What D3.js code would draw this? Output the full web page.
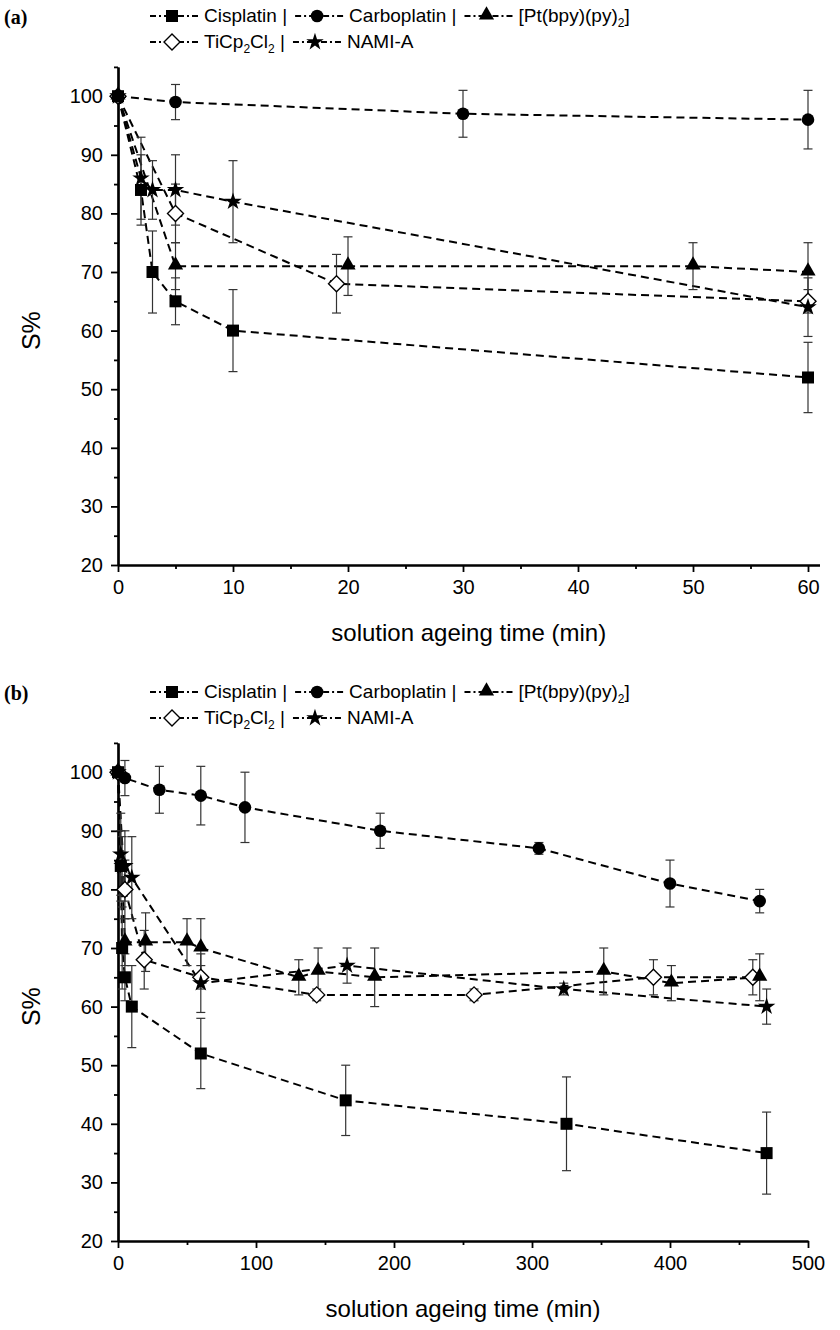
<!DOCTYPE html>
<html>
<head>
<meta charset="utf-8">
<script src="https://cdn.jsdelivr.net/npm/d3@7"></script>
<style>
body { margin: 0; background: #fff; }
svg text { font-family: "Liberation Sans", Arial, sans-serif; fill: #000; }
.narrow { font-family: "Liberation Sans Narrow", "Liberation Sans", Arial, sans-serif; }
</style>
</head>
<body>
<svg id="chart" width="840" height="1330"></svg>
<script>
// S% against solution ageing time; t = minutes, s = S%, e = half height of error bar
const cisplatin = [
    {t: 0, s: 100, e: 0}, {t: 2, s: 84, e: 6}, {t: 3, s: 70, e: 7}, {t: 5, s: 65, e: 4},
    {t: 10, s: 60, e: 7}, {t: 60, s: 52, e: 6}, {t: 165, s: 44, e: 6}, {t: 325, s: 40, e: 8},
    {t: 470, s: 35, e: 7}
];
const carboplatin = [
    {t: 0, s: 100, e: 0}, {t: 5, s: 99, e: 3}, {t: 30, s: 97, e: 4}, {t: 60, s: 96, e: 5},
    {t: 92, s: 94, e: 6}, {t: 190, s: 90, e: 3}, {t: 305, s: 87, e: 1}, {t: 400, s: 81, e: 4},
    {t: 465, s: 78, e: 2}
];
const ptbpy = [
    {t: 0, s: 100, e: 0}, {t: 5, s: 71, e: 4}, {t: 20, s: 71, e: 5}, {t: 50, s: 71, e: 4},
    {t: 60, s: 70, e: 5}, {t: 131, s: 65, e: 3}, {t: 145, s: 66, e: 4}, {t: 186, s: 65, e: 5},
    {t: 352, s: 66, e: 4}, {t: 401, s: 64, e: 3}, {t: 465, s: 65, e: 4}
];
const ticp = [
    {t: 0, s: 100, e: 0}, {t: 5, s: 80, e: 5}, {t: 19, s: 68, e: 5}, {t: 60, s: 65, e: 2},
    {t: 144, s: 62, e: 1}, {t: 258, s: 62, e: 1}, {t: 388, s: 65, e: 3}, {t: 460, s: 65, e: 3}
];
const nami = [
    {t: 0, s: 100, e: 0}, {t: 2, s: 86, e: 7}, {t: 3, s: 84, e: 5}, {t: 5, s: 84, e: 6},
    {t: 10, s: 82, e: 7}, {t: 60, s: 64, e: 5}, {t: 166, s: 67, e: 3}, {t: 323, s: 63, e: 1},
    {t: 470, s: 60, e: 3}
];

const seriesList = [
    {data: ticp, sym: "diamond", label: [["TiCp"], ["2", "sub"], ["Cl"], ["2", "sub"]], sep: true, row: 1},
    {data: nami, sym: "star", label: [["NAMI-A"]], sep: false, row: 1},
    {data: ptbpy, sym: "triangle", label: [["[Pt(bpy)(py)"], ["2", "sub"], ["]"]], sep: false, row: 0},
    {data: cisplatin, sym: "square", label: [["Cisplatin"]], sep: true, row: 0},
    {data: carboplatin, sym: "circle", label: [["Carboplatin"]], sep: true, row: 0}
];
const legendOrder = ["square", "circle", "triangle", "diamond", "star"];

const yMajor = [20, 30, 40, 50, 60, 70, 80, 90, 100];
const yMinor = [25, 35, 45, 55, 65, 75, 85, 95, 105];
const xMajorA = [0, 10, 20, 30, 40, 50, 60];
const xMinorA = [5, 15, 25, 35, 45, 55];
const xMajorB = [0, 100, 200, 300, 400, 500];
const xMinorB = [50, 150, 250, 350, 450];

const svg = d3.select("#chart");

function drawMarker(g, type, x, y) {
    let m;
    if (type === "square") {
        m = g.append("rect").attr("x", x - 6).attr("y", y - 6).attr("width", 12).attr("height", 12);
    } else if (type === "circle") {
        m = g.append("circle").attr("cx", x).attr("cy", y).attr("r", 6.3);
    } else if (type === "triangle") {
        m = g.append("path").attr("d", d3.symbol(d3.symbolTriangle, 100)())
            .attr("transform", "translate(" + x + "," + (y - 1) + ")");
    } else if (type === "diamond") {
        m = g.append("path").attr("d", "M0,-8L8,0L0,8L-8,0Z")
            .attr("transform", "translate(" + x + "," + y + ")")
            .attr("fill", "#fff").attr("stroke", "#000").attr("stroke-width", 1.4);
        return m;
    } else {
        m = g.append("path").attr("d", d3.symbol(d3.symbolStar, 95)())
            .attr("transform", "translate(" + x + "," + y + ")");
    }
    m.attr("fill", "#000");
    return m;
}

function drawPanel(offY, xDomain, xRange, xMajor, xMinor, tag) {
    const g = svg.append("g").attr("transform", "translate(0," + offY + ")");

    const x = d3.scaleLinear().domain(xDomain).range(xRange);
    const y = d3.scaleLinear().domain([20, 105]).range([565, 565 - 85 * 5.86]);

    // axes
    const xAxis = g.append("g").attr("transform", "translate(0,565)")
        .call(d3.axisBottom(x).tickValues(xMajor).tickSize(7).tickPadding(8).tickSizeOuter(0)
            .tickFormat(d3.format("d")));
    g.append("g").attr("transform", "translate(0,565)")
        .call(d3.axisBottom(x).tickValues(xMinor).tickSize(4).tickFormat("").tickSizeOuter(0));
    const yAxis = g.append("g").attr("transform", "translate(" + xRange[0] + ",0)")
        .call(d3.axisLeft(y).tickValues(yMajor).tickSize(7).tickPadding(8).tickSizeOuter(0));
    g.append("g").attr("transform", "translate(" + xRange[0] + ",0)")
        .call(d3.axisLeft(y).tickValues(yMinor).tickSize(4).tickFormat("").tickSizeOuter(0));

    g.selectAll(".domain").attr("stroke", "#000").attr("stroke-width", 2.2);
    g.selectAll(".tick line").attr("stroke", "#000").attr("stroke-width", 1.8);
    xAxis.selectAll("text").attr("class", "narrow").style("font-size", "20px");
    yAxis.selectAll("text").style("font-size", "20px");

    g.append("text").attr("class", "narrow")
        .attr("x", (xRange[0] + xRange[1]) / 2).attr("y", 641)
        .attr("text-anchor", "middle").style("font-size", "24px")
        .text("solution ageing time (min)");
    g.append("text")
        .attr("transform", "translate(40," + y(60) + ") rotate(-90)")
        .attr("text-anchor", "middle").style("font-size", "25px")
        .text("S%");

    g.append("text").attr("x", 4).attr("y", 24)
        .style("font-family", "'Liberation Serif','Times New Roman',serif")
        .style("font-weight", "bold").style("font-size", "20px")
        .text(tag);

    const line = d3.line().x(d => x(d.t)).y(d => y(d.s));

    seriesList.forEach(function (ser) {
        const pts = ser.data.filter(d => d.t <= xDomain[1]);
        g.append("path").datum(pts)
            .attr("d", line)
            .attr("fill", "none").attr("stroke", "#000")
            .attr("stroke-width", 2).attr("stroke-dasharray", "8,5");
    });

    seriesList.forEach(function (ser) {
        const pts = ser.data.filter(d => d.t <= xDomain[1] && d.e > 0);
        const eb = g.append("g").attr("stroke", "#333").attr("stroke-width", 1.2);
        pts.forEach(function (d) {
            const cx = x(d.t);
            eb.append("line").attr("x1", cx).attr("x2", cx).attr("y1", y(d.s - d.e)).attr("y2", y(d.s + d.e));
            eb.append("line").attr("x1", cx - 4.5).attr("x2", cx + 4.5).attr("y1", y(d.s - d.e)).attr("y2", y(d.s - d.e));
            eb.append("line").attr("x1", cx - 4.5).attr("x2", cx + 4.5).attr("y1", y(d.s + d.e)).attr("y2", y(d.s + d.e));
        });
    });

    seriesList.forEach(function (ser) {
        const mg = g.append("g");
        ser.data.filter(d => d.t <= xDomain[1]).forEach(function (d) {
            drawMarker(mg, ser.sym, x(d.t), y(d.s));
        });
    });

    // legend, two rows
    const rowY = [16, 42];
    const cursor = [150, 150];
    legendOrder.forEach(function (sym) {
        const ser = seriesList.find(s => s.sym === sym);
        const lx = cursor[ser.row], ly = rowY[ser.row];
        const lg = g.append("g");
        lg.append("line").attr("x1", lx).attr("x2", lx + 48).attr("y1", ly).attr("y2", ly)
            .attr("stroke", "#000").attr("stroke-width", 1.8).attr("stroke-dasharray", "6,3,2,3");
        drawMarker(lg, ser.sym, lx + 22, ly);
        const t = lg.append("text").attr("class", "narrow").attr("x", lx + 54).attr("y", ly + 6)
            .style("font-size", "19px");
        ser.label.forEach(function (p) {
            if (p[1] === "sub") {
                t.append("tspan").attr("dy", 5).style("font-size", "12px").text(p[0]);
            } else {
                const ts = t.append("tspan").text(p[0]);
                if (t.selectAll("tspan").size() > 1) ts.attr("dy", -5);
            }
        });
        if (ser.sep) {
            const last = ser.label[ser.label.length - 1];
            t.append("tspan").attr("dy", last[1] === "sub" ? -5 : 0).text(" |");
        }
        cursor[ser.row] = lx + 54 + t.node().getComputedTextLength() + 8;
    });
}

drawPanel(0, [0, 61], [118, 118 + 61 * 11.5], xMajorA, xMinorA, "(a)");
drawPanel(676, [0, 500], [118, 808], xMajorB, xMinorB, "(b)");
</script>
</body>
</html>
